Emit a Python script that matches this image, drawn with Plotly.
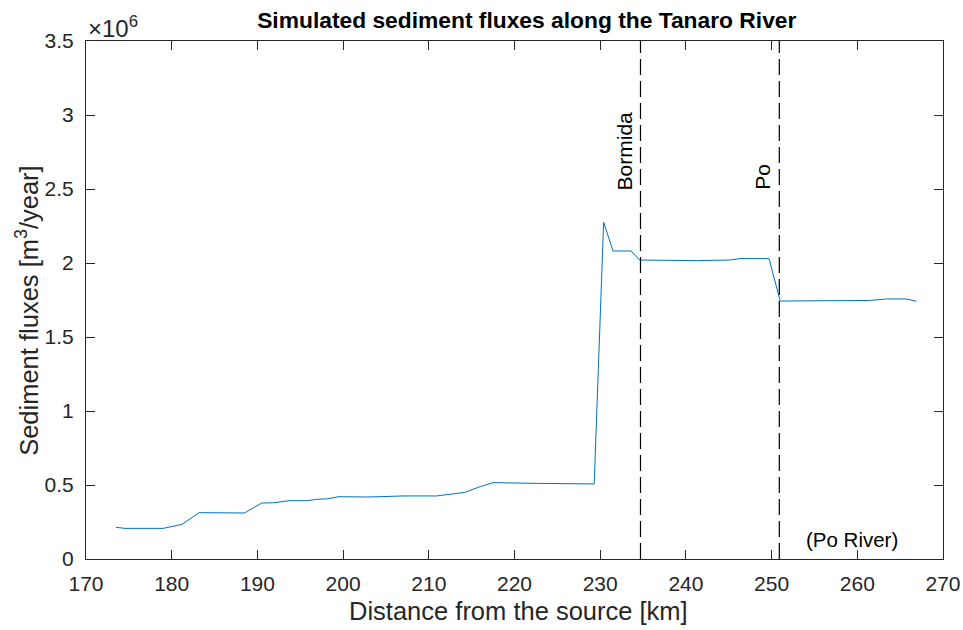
import plotly.graph_objects as go

# Data (distance in km, flux in 1e6 m3/year)
distance_km = [173.5, 174.55, 179.0, 181.2, 183.2, 188.5, 190.5, 191.9, 193.7, 195.7,
               196.9, 198.2, 199.5, 200.8, 202.7, 204.3, 207.0, 210.9, 212.5, 214.2,
               216.0, 217.5, 222.6, 225.7, 229.3, 230.4, 231.5, 233.6, 234.6, 241.2,
               245.1, 246.3, 249.7, 251.0, 256.4, 261.5, 263.4, 265.7, 266.9]
flux_1e6 = [0.214, 0.207, 0.207, 0.234, 0.313, 0.311, 0.378, 0.380, 0.394, 0.394,
            0.403, 0.407, 0.421, 0.419, 0.419, 0.421, 0.426, 0.426, 0.439, 0.450,
            0.489, 0.516, 0.511, 0.509, 0.507, 2.275, 2.081, 2.081, 2.020, 2.016,
            2.020, 2.030, 2.030, 1.743, 1.745, 1.747, 1.757, 1.757, 1.741]

confluence_names = ["Bormida", "Po"]
confluence_km = [234.7, 250.9]

x_ticks = [170, 180, 190, 200, 210, 220, 230, 240, 250, 260, 270]
y_ticks = [0, 0.5, 1, 1.5, 2, 2.5, 3, 3.5]
y_tick_labels = ["0", "0.5", "1", "1.5", "2", "2.5", "3", "3.5"]

FONT = "Liberation Sans, Arial, Helvetica, sans-serif"
AX = "#262626"

fig = go.Figure()
fig.add_trace(go.Scatter(x=distance_km, y=flux_1e6, mode="lines",
                         line=dict(color="#0072BD", width=1), showlegend=False,
                         hoverinfo="skip"))

for name, km in zip(confluence_names, confluence_km):
    fig.add_shape(type="line", x0=km, x1=km, y0=0, y1=3.5, xref="x", yref="y",
                  line=dict(color="black", width=1.2, dash="16px,6px"))
    fig.add_annotation(x=km, y=2.48, xref="x", yref="y", text=name, textangle=-90,
                       showarrow=False, xanchor="right", yanchor="bottom", xshift=-3,
                       font=dict(family=FONT, size=21, color="black"))

fig.add_annotation(x=259.4, y=0.13, xref="x", yref="y", text="(Po River)",
                   showarrow=False, xanchor="center", yanchor="middle",
                   font=dict(family=FONT, size=20.5, color="black"))

fig.add_annotation(x=0, y=1, xref="paper", yref="paper", text="×10<sup>6</sup>",
                   showarrow=False, xanchor="left", yanchor="bottom", yshift=-3,
                   font=dict(family=FONT, size=24, color=AX))

# axis titles
fig.add_annotation(x=0.5, y=-0.1004, xref="paper", yref="paper",
                   text="Distance from the source [km]", showarrow=False,
                   xanchor="center", yanchor="middle", xshift=4,
                   font=dict(family=FONT, size=25.5, color=AX))
fig.add_annotation(x=-0.069, y=0.5, xref="paper", yref="paper",
                   text="Sediment fluxes [m<sup>3</sup>/year]", showarrow=False,
                   textangle=-90, xanchor="center", yanchor="middle", yshift=-10,
                   font=dict(family=FONT, size=25.5, color=AX))

fig.update_layout(
    template="none",
    width=963, height=630,
    margin=dict(l=86, r=20, t=41, b=71),
    paper_bgcolor="white", plot_bgcolor="white",
    title=dict(text="<b>Simulated sediment fluxes along the Tanaro River</b>",
               x=0.547, xanchor="center", y=0.968, yanchor="middle",
               font=dict(family=FONT, size=22.8, color="black")),
    font=dict(family=FONT, size=21, color=AX),
)
fig.update_xaxes(range=[170, 270], tickvals=x_ticks, ticks="inside", ticklen=9,
                 tickcolor=AX, showline=True, linecolor=AX, linewidth=1, mirror="ticks",
                 showgrid=False, zeroline=False, automargin=False, ticklabelstandoff=6,
                 tickfont=dict(family=FONT, size=21, color=AX))
fig.update_yaxes(range=[0, 3.5], tickvals=y_ticks, ticktext=y_tick_labels,
                 ticks="inside", ticklen=9, tickcolor=AX, showline=True, linecolor=AX,
                 linewidth=1, mirror="ticks", showgrid=False, zeroline=False,
                 automargin=False, ticklabelstandoff=7,
                 tickfont=dict(family=FONT, size=21, color=AX))

fig.write_html("out.html")
